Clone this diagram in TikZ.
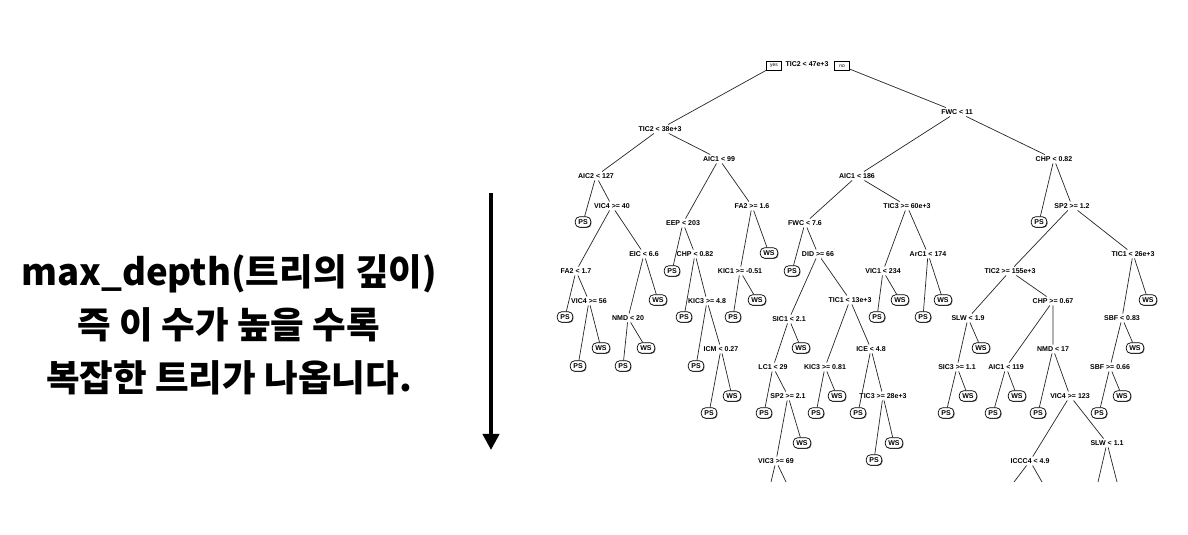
\documentclass[tikz,border=0pt]{standalone}
\usepackage{fontspec}
\newfontfamily\kofont{Noto Sans CJK KR}
\newfontfamily\treefont{Liberation Sans}
\usetikzlibrary{arrows.meta,shadows}

\tikzset{
  split/.style={font=\treefont\bfseries\fontsize{5}{6}\selectfont, inner sep=1.2pt},
  leaf/.style={draw, fill=white, rounded corners=3pt, line width=.5pt, inner xsep=2.2pt, inner ysep=1.9pt,
    font=\treefont\bfseries\fontsize{5}{6}\selectfont,
    drop shadow={shadow xshift=.5pt, shadow yshift=-.5pt, fill=black!60, opacity=1}},
  yesno/.style={draw, fill=white, line width=.5pt, inner sep=.8pt, minimum width=10.5pt, minimum height=6pt,
    font=\treefont\fontsize{3.5}{4}\selectfont,
    drop shadow={shadow xshift=.4pt, shadow yshift=-.4pt, fill=black!60, opacity=1}},
  branch/.style={line width=.5pt, black!85}
}

\begin{document}
\begin{tikzpicture}[x=0.025cm, y=-0.025cm]
\useasboundingbox (0,0) rectangle (1188,534);

\node[font=\kofont\bfseries\fontsize{26}{37.7}\selectfont, align=center] (note) at (229,325)
  {max\_depth(트리의 깊이)\\즉 이 수가 높을 수록\\복잡한 트리가 나옵니다.};
\coordinate (arrtop) at (491,193);
\coordinate (arrbot) at (491,450);
\draw[line width=2.8pt, -{Triangle[width=11.4pt, length=11.4pt]}] (arrtop) -- (arrbot);

\node[split] (n1) at (807,64) {TIC2 < 47e+3};
\node[yesno] (yesb) at (774,66) {yes};
\node[yesno] (nob) at (842,66) {no};

\node[split] (n2) at (660,129) {TIC2 < 38e+3};
\node[split] (n3) at (957,112) {FWC < 11};
\node[split] (n4) at (596,176) {AIC2 < 127};
\node[split] (n5) at (719,159) {AIC1 < 99};
\node[split] (n6) at (857,176) {AIC1 < 186};
\node[split] (n7) at (1054,159) {CHP < 0.82};

\node[leaf] (n8) at (583,222) {PS};
\node[split] (n9) at (612,206) {VIC4 >= 40};
\node[split] (n18) at (576,271) {FA2 < 1.7};
\node[split] (n19) at (644,254) {EIC < 6.6};
\node[leaf] (n36) at (565,317) {PS};
\node[split] (n37) at (589,301) {VIC4 >= 56};
\node[leaf] (n74) at (578,366) {PS};
\node[leaf] (n75) at (601,348) {WS};
\node[split] (n38) at (628,318) {NMD < 20};
\node[leaf] (n39) at (658,300) {WS};
\node[leaf] (n76) at (623,366) {PS};
\node[leaf] (n77) at (646,348) {WS};

\node[split] (n10) at (683,223) {EEP < 203};
\node[split] (n11) at (752,206) {FA2 >= 1.6};
\node[leaf] (n20) at (672,271) {PS};
\node[split] (n21) at (695,254) {CHP < 0.82};
\node[leaf] (n42) at (684,317) {PS};
\node[split] (n43) at (707,301) {KIC3 >= 4.8};
\node[leaf] (n86) at (696,366) {PS};
\node[split] (n87) at (721,349) {ICM < 0.27};
\node[leaf] (n174) at (709,413) {PS};
\node[leaf] (n175) at (732,396) {WS};
\node[split] (n22) at (740,271) {KIC1 >= -0.51};
\node[leaf] (n23) at (769,253) {WS};
\node[leaf] (n44) at (733,317) {PS};
\node[leaf] (n45) at (757,300) {WS};

\node[split] (n12) at (805,223) {FWC < 7.6};
\node[split] (n13) at (907,206) {TIC3 >= 60e+3};
\node[leaf] (n24) at (792,271) {PS};
\node[split] (n25) at (818,254) {DID >= 66};
\node[split] (n50) at (789,319) {SIC1 < 2.1};
\node[split] (n51) at (850,300) {TIC1 < 13e+3};
\node[split] (n100) at (773,367) {LC1 < 29};
\node[leaf] (n101) at (801,348) {WS};
\node[leaf] (n200) at (764,413) {PS};
\node[split] (n201) at (788,396) {SP2 >= 2.1};
\node[split] (n402) at (776,461) {VIC3 >= 69};
\node[leaf] (n403) at (802,443) {WS};
\coordinate (n804) at (771,482);
\coordinate (n805) at (786,482);
\node[split] (n102) at (825,367) {KIC3 >= 0.81};
\node[split] (n103) at (871,349) {ICE < 4.8};
\node[leaf] (n204) at (816,413) {PS};
\node[leaf] (n205) at (837,396) {WS};
\node[leaf] (n206) at (858,413) {PS};
\node[split] (n207) at (883,396) {TIC3 >= 28e+3};
\node[leaf] (n414) at (874,460) {PS};
\node[leaf] (n415) at (894,443) {WS};
\node[split] (n26) at (883,271) {VIC1 < 234};
\node[split] (n27) at (928,254) {ArC1 < 174};
\node[leaf] (n52) at (877,317) {PS};
\node[leaf] (n53) at (900,300) {WS};
\node[leaf] (n54) at (923,317) {PS};
\node[leaf] (n55) at (943,300) {WS};

\node[leaf] (n14) at (1039,222) {PS};
\node[split] (n15) at (1072,206) {SP2 >= 1.2};
\node[split] (n30) at (1010,271) {TIC2 >= 155e+3};
\node[split] (n31) at (1133,254) {TIC1 < 26e+3};
\node[split] (n60) at (968,318) {SLW < 1.9};
\node[split] (n61) at (1053,301) {CHP >= 0.67};
\node[split] (n120) at (957,367) {SIC3 >= 1.1};
\node[leaf] (n121) at (981,348) {WS};
\node[leaf] (n240) at (946,413) {PS};
\node[leaf] (n241) at (968,396) {WS};
\node[split] (n122) at (1006,367) {AIC1 < 119};
\node[split] (n123) at (1053,349) {NMD < 17};
\node[leaf] (n244) at (993,413) {PS};
\node[leaf] (n245) at (1017,396) {WS};
\node[leaf] (n246) at (1038,413) {PS};
\node[split] (n247) at (1070,396) {VIC4 >= 123};
\node[split] (n494) at (1030,461) {ICCC4 < 4.9};
\node[split] (n495) at (1107,443) {SLW < 1.1};
\coordinate (n988) at (1014,482);
\coordinate (n989) at (1042,482);
\coordinate (n990) at (1098,482);
\coordinate (n991) at (1117,482);
\node[split] (n62) at (1122,318) {SBF < 0.83};
\node[leaf] (n63) at (1148,300) {WS};
\node[split] (n124) at (1110,367) {SBF >= 0.66};
\node[leaf] (n125) at (1135,348) {WS};
\node[leaf] (n248) at (1099,413) {PS};
\node[leaf] (n249) at (1122,396) {WS};

\draw[branch] (yesb) -- (n2) (nob) -- (n3);
\draw[branch] (n2) -- (n4) (n2) -- (n5) (n3) -- (n6) (n3) -- (n7);
\draw[branch] (n4) -- (n8) (n4) -- (n9) (n9) -- (n18) (n9) -- (n19);
\draw[branch] (n18) -- (n36) (n18) -- (n37) (n37) -- (n74) (n37) -- (n75);
\draw[branch] (n19) -- (n38) (n19) -- (n39) (n38) -- (n76) (n38) -- (n77);
\draw[branch] (n5) -- (n10) (n5) -- (n11) (n10) -- (n20) (n10) -- (n21);
\draw[branch] (n21) -- (n42) (n21) -- (n43) (n43) -- (n86) (n43) -- (n87);
\draw[branch] (n87) -- (n174) (n87) -- (n175);
\draw[branch] (n11) -- (n22) (n11) -- (n23) (n22) -- (n44) (n22) -- (n45);
\draw[branch] (n6) -- (n12) (n6) -- (n13) (n12) -- (n24) (n12) -- (n25);
\draw[branch] (n25) -- (n50) (n25) -- (n51) (n50) -- (n100) (n50) -- (n101);
\draw[branch] (n100) -- (n200) (n100) -- (n201) (n201) -- (n402) (n201) -- (n403);
\draw[branch] (n402) -- (n804) (n402) -- (n805);
\draw[branch] (n51) -- (n102) (n51) -- (n103) (n102) -- (n204) (n102) -- (n205);
\draw[branch] (n103) -- (n206) (n103) -- (n207) (n207) -- (n414) (n207) -- (n415);
\draw[branch] (n13) -- (n26) (n13) -- (n27) (n26) -- (n52) (n26) -- (n53);
\draw[branch] (n27) -- (n54) (n27) -- (n55);
\draw[branch] (n7) -- (n14) (n7) -- (n15) (n15) -- (n30) (n15) -- (n31);
\draw[branch] (n30) -- (n60) (n30) -- (n61) (n60) -- (n120) (n60) -- (n121);
\draw[branch] (n120) -- (n240) (n120) -- (n241);
\draw[branch] (n61) -- (n122) (n61) -- (n123) (n122) -- (n244) (n122) -- (n245);
\draw[branch] (n123) -- (n246) (n123) -- (n247) (n247) -- (n494) (n247) -- (n495);
\draw[branch] (n494) -- (n988) (n494) -- (n989) (n495) -- (n990) (n495) -- (n991);
\draw[branch] (n31) -- (n62) (n31) -- (n63) (n62) -- (n124) (n62) -- (n125);
\draw[branch] (n124) -- (n248) (n124) -- (n249);
\end{tikzpicture}
\end{document}
